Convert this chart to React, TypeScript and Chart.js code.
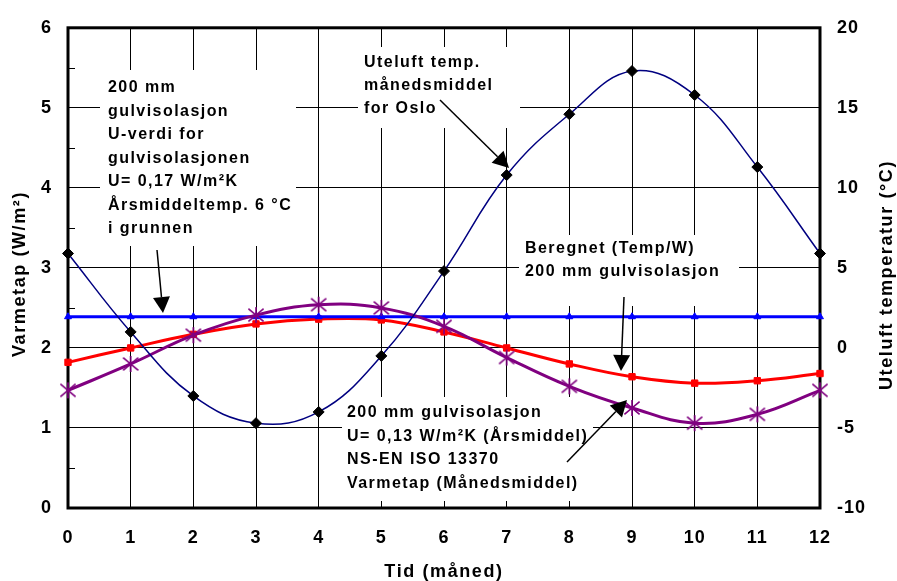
import React, { useEffect, useRef } from 'react';
import { Chart, registerables } from 'chart.js';

Chart.register(...registerables);

const FONT = "'Liberation Sans', Arial, Helvetica, sans-serif";

// ---- data ----
const months = [0, 1, 2, 3, 4, 5, 6, 7, 8, 9, 10, 11, 12];
const outdoorTempC = [5.9, 1.0, -3.0, -4.7, -4.0, -0.5, 4.8, 10.8, 14.6, 17.3, 15.8, 11.3, 5.9];
const lossU017 = [2.39, 2.39, 2.39, 2.39, 2.39, 2.39, 2.39, 2.39, 2.39, 2.39, 2.39, 2.39, 2.39];
const lossCalculated = [1.82, 2.0, 2.17, 2.3, 2.36, 2.35, 2.2, 2.0, 1.8, 1.64, 1.56, 1.59, 1.68];
const lossMonthlyIso = [1.47, 1.8, 2.16, 2.41, 2.54, 2.5, 2.27, 1.88, 1.52, 1.25, 1.06, 1.17, 1.47];

const xTitle = 'Tid (måned)';
const yLeftTitle = 'Varmetap (W/m²)';
const yRightTitle = 'Uteluft temperatur (°C)';

const noteU017 = ['200 mm', 'gulvisolasjon', 'U-verdi for', 'gulvisolasjonen', 'U= 0,17 W/m²K', 'Årsmiddeltemp. 6 °C', 'i grunnen'];
const noteOslo = ['Uteluft temp.', 'månedsmiddel', 'for Oslo'];
const noteCalc = ['Beregnet (Temp/W)', '200 mm gulvisolasjon'];
const noteIso = ['200 mm gulvisolasjon', 'U= 0,13 W/m²K (Årsmiddel)', 'NS-EN ISO 13370', 'Varmetap (Månedsmiddel)'];

const toPoints = (vals: number[]) => months.map((m, i) => ({ x: m, y: vals[i] }));

function makeStar(color: string, r: number) {
  const c = document.createElement('canvas');
  const s = Math.ceil(r * 2 + 4);
  c.width = s;
  c.height = s;
  const g = c.getContext('2d')!;
  const m = s / 2;
  g.strokeStyle = color;
  g.lineWidth = 1.6;
  g.beginPath();
  const d = r * 0.95;
  g.moveTo(m - d, m - d * 0.85);
  g.lineTo(m + d, m + d * 0.85);
  g.moveTo(m + d, m - d * 0.85);
  g.lineTo(m - d, m + d * 0.85);
  g.moveTo(m, m - r);
  g.lineTo(m, m + r);
  g.stroke();
  return c;
}

function drawArrow(ctx: CanvasRenderingContext2D, x1: number, y1: number, x2: number, y2: number) {
  const ang = Math.atan2(y2 - y1, x2 - x1);
  const L = 16;
  const W = 8.5;
  const bx = x2 - L * Math.cos(ang);
  const by = y2 - L * Math.sin(ang);
  ctx.beginPath();
  ctx.moveTo(x1, y1);
  ctx.lineTo(bx, by);
  ctx.lineWidth = 1.5;
  ctx.strokeStyle = '#000';
  ctx.stroke();
  ctx.beginPath();
  ctx.moveTo(x2, y2);
  ctx.lineTo(bx + W * Math.sin(ang), by - W * Math.cos(ang));
  ctx.lineTo(bx - W * Math.sin(ang), by + W * Math.cos(ang));
  ctx.closePath();
  ctx.fillStyle = '#000';
  ctx.fill();
}

const decorPlugin = {
  id: 'decor',
  beforeDraw(chart: any) {
    (chart.ctx as any).letterSpacing = '1px';
  },
  beforeDatasetsDraw(chart: any) {
    const { ctx, chartArea } = chart;
    const y = chart.scales.y;
    ctx.save();
    // white text boxes
    ctx.fillStyle = '#fff';
    ctx.fillRect(100, 70, 196, 176);
    ctx.fillRect(358, 47, 162, 81);
    ctx.fillRect(519, 235, 220, 71);
    ctx.fillRect(342, 397, 251, 104);
    // minor inward ticks on left axis
    ctx.strokeStyle = '#000';
    ctx.lineWidth = 1;
    for (let v = 0.5; v < 6; v += 1) {
      const py = Math.round(y.getPixelForValue(v)) + 0.5;
      ctx.beginPath();
      ctx.moveTo(chartArea.left, py);
      ctx.lineTo(chartArea.left + 7, py);
      ctx.stroke();
    }
    // frame
    ctx.lineWidth = 3;
    ctx.strokeRect(chartArea.left, chartArea.top, chartArea.right - chartArea.left, chartArea.bottom - chartArea.top);
    ctx.restore();
  },
  afterDatasetsDraw(chart: any) {
    const ctx = chart.ctx as CanvasRenderingContext2D;
    ctx.save();
    (ctx as any).letterSpacing = '1.45px';
    ctx.fillStyle = '#000';
    ctx.font = `bold 16px ${FONT}`;
    ctx.textAlign = 'left';
    ctx.textBaseline = 'alphabetic';
    noteU017.forEach((t, i) => ctx.fillText(t, 108, 92 + i * 23.5));
    noteOslo.forEach((t, i) => ctx.fillText(t, 364, 67 + i * 23));
    noteCalc.forEach((t, i) => ctx.fillText(t, 525, 253 + i * 22.5));
    noteIso.forEach((t, i) => ctx.fillText(t, 347, 417 + i * 23.5));
    drawArrow(ctx, 157, 250, 163, 313);
    drawArrow(ctx, 440, 100, 509, 168);
    drawArrow(ctx, 624, 297, 621, 371);
    drawArrow(ctx, 567, 462, 627, 400);
    ctx.restore();
  },
  afterDraw(chart: any) {
    const ctx = chart.ctx as CanvasRenderingContext2D;
    const ca = chart.chartArea;
    ctx.save();
    (ctx as any).letterSpacing = '1.6px';
    ctx.fillStyle = '#000';
    ctx.font = `bold 18px ${FONT}`;
    ctx.textAlign = 'center';
    ctx.textBaseline = 'middle';
    ctx.fillText(xTitle, (ca.left + ca.right) / 2, 572);
    ctx.save();
    ctx.translate(20, 274);
    ctx.rotate(-Math.PI / 2);
    ctx.fillText(yLeftTitle, 0, 0);
    ctx.restore();
    ctx.save();
    ctx.translate(887, 275);
    ctx.rotate(-Math.PI / 2);
    ctx.fillText(yRightTitle, 0, 0);
    ctx.restore();
    ctx.restore();
  },
};

export default function App() {
  const ref = useRef<HTMLCanvasElement | null>(null);

  useEffect(() => {
    if (!ref.current) return;
    const tickFont = { family: FONT, size: 18, weight: 'bold' as const };
    const star = makeStar('#800080', 8);
    const chart = new Chart(ref.current, {
      type: 'line',
      data: {
        datasets: [
          {
            label: 'Uteluft temp. månedsmiddel for Oslo',
            data: toPoints(outdoorTempC),
            yAxisID: 'y2',
            borderColor: '#000080',
            borderWidth: 1.5,
            tension: 0.4,
            pointStyle: 'rectRot',
            pointRadius: 5.5,
            pointBackgroundColor: '#000',
            pointBorderColor: '#000',
            pointBorderWidth: 1,
            clip: false,
          },
          {
            label: 'Varmetap (Månedsmiddel)',
            data: toPoints(lossMonthlyIso),
            yAxisID: 'y',
            borderColor: '#800080',
            borderWidth: 3,
            tension: 0.4,
            pointStyle: star as any,
            pointRadius: 8,
            clip: false,
          },
          {
            label: 'U= 0,17 W/m²K',
            data: toPoints(lossU017),
            yAxisID: 'y',
            borderColor: '#0000FF',
            borderWidth: 3,
            tension: 0,
            pointStyle: 'triangle',
            pointRadius: 4,
            pointBackgroundColor: '#0000FF',
            pointBorderColor: '#0000FF',
            pointBorderWidth: 1,
            clip: false,
          },
          {
            label: 'Beregnet (Temp/W)',
            data: toPoints(lossCalculated),
            yAxisID: 'y',
            borderColor: '#FF0000',
            borderWidth: 3,
            tension: 0.4,
            pointStyle: 'rect',
            pointRadius: 4.5,
            pointBackgroundColor: '#FF0000',
            pointBorderColor: '#FF0000',
            pointBorderWidth: 1,
            clip: false,
          },
        ],
      },
      options: {
        animation: false,
        responsive: false,
        devicePixelRatio: 1,
        layout: { padding: { top: 21, left: 0, right: 0, bottom: 0 } },
        plugins: { legend: { display: false }, tooltip: { enabled: false } },
        events: [],
        scales: {
          x: {
            type: 'linear',
            min: 0,
            max: 12,
            ticks: { stepSize: 1, font: tickFont, color: '#000', padding: 19 },
            grid: { color: '#000', lineWidth: 1, drawTicks: false },
            border: { display: false },
            afterFit: (s: any) => {
              s.height = 73;
            },
          },
          y: {
            type: 'linear',
            position: 'left',
            min: 0,
            max: 6,
            ticks: { stepSize: 1, font: tickFont, color: '#000', padding: 16 },
            grid: { color: '#000', lineWidth: 1, drawTicks: false },
            border: { display: false },
            afterFit: (s: any) => {
              s.width = 68;
            },
          },
          y2: {
            type: 'linear',
            position: 'right',
            min: -10,
            max: 20,
            ticks: { stepSize: 5, font: tickFont, color: '#000', padding: 17 },
            grid: { drawOnChartArea: false, drawTicks: false },
            border: { display: false },
            afterFit: (s: any) => {
              s.width = 77;
            },
          },
        },
      } as any,
      plugins: [decorPlugin],
    });
    return () => chart.destroy();
  }, []);

  return (
    <div style={{ position: 'absolute', left: 0, top: 0, width: 897, height: 581, background: '#fff' }}>
      <canvas ref={ref} width={897} height={581} style={{ width: 897, height: 581, display: 'block' }} />
    </div>
  );
}
